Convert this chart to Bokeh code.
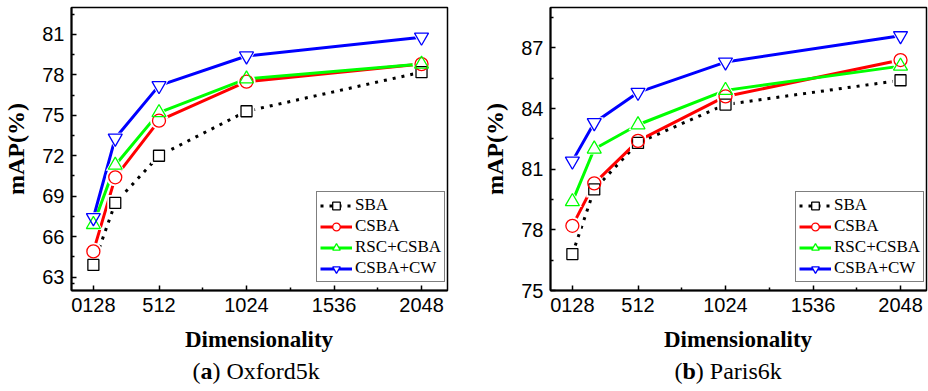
from bokeh.plotting import figure
from bokeh.layouts import row, column
from bokeh.models import FixedTicker, Legend, LegendItem, Range1d
from bokeh.core.properties import value
from bokeh.embed import file_html
from bokeh.resources import INLINE

# ---- data ----
dims = [128, 256, 512, 1024, 2048]
series_names = ["SBA", "CSBA", "RSC+CSBA", "CSBA+CW"]

oxford_sba = [63.9, 68.5, 72.0, 75.3, 78.2]
oxford_csba = [64.9, 70.4, 74.6, 77.5, 78.8]
oxford_rsc_csba = [66.9, 71.3, 75.2, 77.7, 78.8]
oxford_csba_cw = [67.4, 73.3, 77.2, 79.4, 80.8]

paris_sba = [76.8, 80.0, 82.3, 84.2, 85.4]
paris_csba = [78.2, 80.3, 82.4, 84.6, 86.4]
paris_rsc_csba = [79.4, 82.0, 83.2, 84.9, 86.1]
paris_csba_cw = [81.4, 83.3, 84.8, 86.3, 87.6]

x_ticks = [128, 512, 1024, 1536, 2048]
x_tick_labels = ["0128", "512", "1024", "1536", "2048"]
x_minor_ticks = [768, 1280, 1792]
oxford_y_ticks = [63, 66, 69, 72, 75, 78, 81]
oxford_y_minor = [62.5, 64.5, 67.5, 70.5, 73.5, 76.5, 79.5, 82.5]
paris_y_ticks = [75, 78, 81, 84, 87]
paris_y_minor = [76.5, 79.5, 82.5, 85.5, 88.5]

x_axis_title = "Dimensionality"
y_axis_title = "mAP(%)"
caption_letters = ["a", "b"]
caption_names = ["Oxford5k", "Paris6k"]

styles = [
    dict(color="black", dash="3 6", marker="square", size=11),
    dict(color="#FF0000", dash="solid", marker="circle", size=13),
    dict(color="#00FF00", dash="solid", marker="triangle", size=14),
    dict(color="#0000FF", dash="solid", marker="inverted_triangle", size=14),
]

SERIF = "Liberation Serif"
SANS = "Liberation Sans"
FRAME_W = 377
MAIN_H = 320
CAP_H = 391 - MAIN_H
Y_SHIFT = 9


def build(width, series, y_lo, y_hi, yticks, yminor):
    p = figure(width=width, height=MAIN_H, title=None,
               x_range=Range1d(0, 2200), y_range=Range1d(y_lo, y_hi),
               output_backend="svg", toolbar_location=None,
               min_border_left=70, min_border_right=width - 70 - FRAME_W,
               min_border_top=7, min_border_bottom=MAIN_H - 290)
    p.xgrid.visible = False
    p.ygrid.visible = False
    p.background_fill_color = "white"
    p.border_fill_color = "white"
    p.outline_line_color = "black"
    p.outline_line_width = 1.5
    p.outline_line_alpha = 1.0

    xa = p.xaxis[0]
    xa.ticker = FixedTicker(ticks=x_ticks, minor_ticks=x_minor_ticks)
    xa.major_label_overrides = {t: l for t, l in zip(x_ticks, x_tick_labels)}
    ya = p.yaxis[0]
    ya.ticker = FixedTicker(ticks=yticks, minor_ticks=yminor)

    for ax in (xa, ya):
        ax.axis_line_color = "black"
        ax.axis_line_width = 2
        ax.major_tick_in = 5
        ax.major_tick_out = 0
        ax.minor_tick_in = 3
        ax.minor_tick_out = 0
        ax.major_tick_line_color = "black"
        ax.minor_tick_line_color = "black"
        ax.major_tick_line_width = 1.5
        ax.minor_tick_line_width = 1.5
        ax.major_label_text_font = SANS
        ax.major_label_text_font_size = "20px"
        ax.major_label_text_color = "black"
        ax.axis_label_text_font = SERIF
        ax.axis_label_text_font_style = "bold"
        ax.axis_label_text_color = "black"
    xa.major_label_standoff = 7
    ya.axis_label = y_axis_title
    ya.axis_label_text_font_size = "24px"
    ya.major_label_standoff = 7
    ya.axis_label_standoff = 10

    lines, bgs, outs = [], [], []
    for vals, st in zip(series, styles):
        lines.append(p.line(dims, vals, line_color=st["color"], line_width=3,
                            line_dash=st["dash"]))
    for vals, st in zip(series, styles):
        bgs.append(p.scatter(dims, vals, marker=st["marker"], size=st["size"] + 5,
                             fill_color="white", line_color=None))
    for vals, st in zip(series, styles):
        outs.append(p.scatter(dims, vals, marker=st["marker"], size=st["size"],
                              fill_color=None, line_color=st["color"], line_width=1.3))

    items = [LegendItem(label=name, renderers=[l, b, o])
             for name, l, b, o in zip(series_names, lines, bgs, outs)]
    legend = Legend(items=items, location=(245, 8),
                    label_text_font=SERIF, label_text_font_size="17px",
                    label_text_color="black",
                    glyph_width=32, glyph_height=19, label_height=19,
                    label_standoff=3, spacing=1, padding=3, margin=0,
                    border_line_color="black", border_line_width=1.3,
                    background_fill_color="white", background_fill_alpha=1.0)
    p.add_layout(legend, "center")
    return p


def caption(width, letter, name, start_x):
    c = figure(width=width, height=CAP_H, title=None,
               x_range=Range1d(0, width), y_range=Range1d(0, CAP_H),
               output_backend="svg", toolbar_location=None,
               x_axis_location=None, y_axis_location=None, min_border=0)
    c.xgrid.visible = False
    c.ygrid.visible = False
    c.outline_line_color = None
    c.background_fill_color = "white"
    c.border_fill_color = "white"
    # axis title (centred under the frame)
    c.text(x=[70 + FRAME_W / 2], y=[391 - 348 + Y_SHIFT], text=[x_axis_title],
           text_font=value(SERIF), text_font_size=value("23px"),
           text_font_style="bold", text_baseline="alphabetic",
           text_align="center", text_color="black")
    base = 391 - 379 + Y_SHIFT
    common = dict(text_font=value(SERIF), text_font_size=value("24px"),
                  text_baseline="alphabetic", text_align="left", text_color="black")
    c.text(x=[start_x], y=[base], text=["("], **common)
    c.text(x=[start_x + 8.0], y=[base], text=[letter], text_font_style="bold", **common)
    off = 8.0 + (12.0 if letter == "a" else 13.3)
    c.text(x=[start_x + off], y=[base], text=[") " + name], **common)
    return c


p1 = build(479, [oxford_sba, oxford_csba, oxford_rsc_csba, oxford_csba_cw],
           62, 83, oxford_y_ticks, oxford_y_minor)
p2 = build(449, [paris_sba, paris_csba, paris_rsc_csba, paris_csba_cw],
           75, 89, paris_y_ticks, paris_y_minor)
c1 = caption(479, caption_letters[0], caption_names[0], 192)
c2 = caption(449, caption_letters[1], caption_names[1], 195)

layout = column(row(p1, p2), row(c1, c2))
open("out.html", "w").write(file_html(layout, INLINE))
